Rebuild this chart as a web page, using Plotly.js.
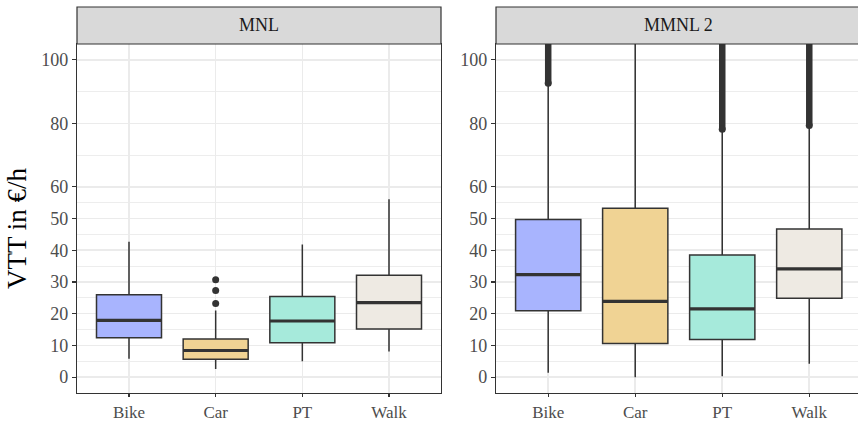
<!DOCTYPE html>
<html>
<head>
<meta charset="utf-8">
<script src="https://cdn.plot.ly/plotly-3.0.1.min.js"></script>
<style>html,body{margin:0;padding:0;background:#fff}#chart{width:858px;height:421px}</style>
</head>
<body>
<div id="chart"></div>
<script>
// ---- data ----
const categories = ['Bike', 'Car', 'PT', 'Walk'];
const panelTitles = ['MNL', 'MMNL 2'];
const fillColors = ['#A8B4FE', '#F0D394', '#A6EADB', '#EEEAE3'];

// MNL
const mnlLowerWhisker = [5.8, 2.6, 5.0, 8.1];
const mnlQ1 = [12.4, 5.6, 10.8, 15.2];
const mnlMedian = [17.9, 8.4, 17.7, 23.5];
const mnlQ3 = [26.0, 12.0, 25.4, 32.1];
const mnlUpperWhisker = [42.7, 21.0, 41.8, 56.1];
const mnlOutlierCategory = ['Car', 'Car', 'Car'];
const mnlOutlierValues = [23.2, 27.3, 30.7];

// MMNL 2
const mmnlLowerWhisker = [1.4, 0.0, 0.3, 4.2];
const mmnlQ1 = [20.9, 10.6, 11.9, 24.9];
const mmnlMedian = [32.3, 23.9, 21.5, 34.1];
const mmnlQ3 = [49.7, 53.2, 38.5, 46.7];
const mmnlUpperWhisker = [92.3, 117.0, 77.8, 79.0];
// dense runs of outliers: from where they start to beyond the visible range
const mmnlOutlierStart = [92.6, null, 78.1, 79.3];
const mmnlOutlierEnd = [150, null, 150, 150];

const yTickVals = [0, 10, 20, 30, 40, 50, 60, 80, 100];
const yMinorVals = [5, 15, 25, 35, 45, 55, 70, 90];

// ---- build ----
const W = 858, H = 421;
const FONT = 'Liberation Serif, Times New Roman, serif';
const edge = '#333333';
const traces = [];

function addPanel(xa, ya, lo, q1, med, q3, hi) {
  categories.forEach((c, i) => {
    traces.push({
      type: 'box', xaxis: xa, yaxis: ya, x: [c],
      q1: [q1[i]], median: [med[i]], q3: [q3[i]],
      lowerfence: [lo[i]], upperfence: [hi[i]],
      width: 0.75, whiskerwidth: 0, boxpoints: false,
      fillcolor: fillColors[i], line: {color: edge, width: 1.5},
      showlegend: false, hoverinfo: 'skip'
    });
    // thicker median bar (ggplot fatten)
    traces.push({
      type: 'box', xaxis: xa, yaxis: ya, x: [c],
      q1: [med[i]], median: [med[i]], q3: [med[i]],
      lowerfence: [med[i]], upperfence: [med[i]],
      width: 0.75, whiskerwidth: 0, boxpoints: false,
      fillcolor: 'rgba(0,0,0,0)', line: {color: edge, width: 3.2},
      showlegend: false, hoverinfo: 'skip'
    });
  });
}
addPanel('x', 'y', mnlLowerWhisker, mnlQ1, mnlMedian, mnlQ3, mnlUpperWhisker);
addPanel('x2', 'y2', mmnlLowerWhisker, mmnlQ1, mmnlMedian, mmnlQ3, mmnlUpperWhisker);

traces.push({
  type: 'scatter', mode: 'markers', xaxis: 'x', yaxis: 'y',
  x: mnlOutlierCategory, y: mnlOutlierValues,
  marker: {color: edge, size: 7}, showlegend: false, hoverinfo: 'skip'
});

const ox = [], oy = [];
categories.forEach((c, i) => {
  if (mmnlOutlierStart[i] === null) return;
  ox.push(c, c, null); oy.push(mmnlOutlierStart[i], mmnlOutlierEnd[i], null);
});
traces.push({
  type: 'scatter', mode: 'lines+markers', xaxis: 'x2', yaxis: 'y2',
  x: ox, y: oy, connectgaps: false,
  line: {color: edge, width: 6.5}, marker: {color: edge, size: 7},
  showlegend: false, hoverinfo: 'skip'
});

const px = v => v / W, py = v => 1 - v / H;
const plotTop = 44, plotBottom = 393, stripTop = 7;
const xDom1 = [px(77), px(441)], xDom2 = [px(496), 1];

function xAxis(dom, range, anchor) {
  return {
    domain: dom, anchor: anchor, range: range, type: 'category',
    categoryorder: 'array', categoryarray: categories,
    showgrid: true, gridcolor: '#EBEBEB', gridwidth: 1.6,
    showline: true, mirror: true, linecolor: edge, linewidth: 1.2,
    ticks: 'outside', ticklen: 3, tickwidth: 1.2, tickcolor: edge,
    tickfont: {family: FONT, size: 17, color: '#4D4D4D'},
    zeroline: false, fixedrange: true
  };
}
function yAxis(anchor, mirror) {
  return {
    domain: [py(plotBottom), py(plotTop)], anchor: anchor, range: [-5, 105],
    tickmode: 'array', tickvals: yTickVals, ticktext: yTickVals.map(String),
    showgrid: true, gridcolor: '#EBEBEB', gridwidth: 1.6,
    minor: {tickmode: 'array', tickvals: yMinorVals, showgrid: true, gridcolor: '#EBEBEB', gridwidth: 0.9, ticks: ''},
    showline: true, mirror: mirror, linecolor: edge, linewidth: 1.2,
    ticks: 'outside', ticklen: 4, tickwidth: 1.2, tickcolor: edge,
    tickfont: {family: FONT, size: 18, color: '#4D4D4D'},
    zeroline: false, fixedrange: true
  };
}

const layout = {
  width: W, height: H,
  margin: {l: 0, r: 0, t: 0, b: 0},
  paper_bgcolor: '#ffffff', plot_bgcolor: '#ffffff',
  showlegend: false,
  xaxis: xAxis(xDom1, [-0.6, 3.6], 'y'),
  yaxis: yAxis('x', true),
  xaxis2: xAxis(xDom2, [-0.6, 3.56], 'y2'),
  yaxis2: yAxis('x2', false),
  shapes: [
    {type: 'rect', xref: 'paper', yref: 'paper', x0: xDom1[0], x1: xDom1[1], y0: py(plotTop), y1: py(stripTop),
     fillcolor: '#D9D9D9', line: {color: edge, width: 1.2}, layer: 'above'},
    {type: 'rect', xref: 'paper', yref: 'paper', x0: xDom2[0], x1: 1.01, y0: py(plotTop), y1: py(stripTop),
     fillcolor: '#D9D9D9', line: {color: edge, width: 1.2}, layer: 'above'}
  ],
  annotations: [
    {text: panelTitles[0], xref: 'paper', yref: 'paper', x: (xDom1[0] + xDom1[1]) / 2, y: py((plotTop + stripTop) / 2),
     xanchor: 'center', yanchor: 'middle', showarrow: false, font: {family: FONT, size: 18, color: '#1A1A1A'}},
    {text: panelTitles[1], xref: 'paper', yref: 'paper', x: px((496 + 861) / 2), y: py((plotTop + stripTop) / 2),
     xanchor: 'center', yanchor: 'middle', showarrow: false, font: {family: FONT, size: 18, color: '#1A1A1A'}},
    {text: 'VTT in €/h', xref: 'paper', yref: 'paper', x: px(17), y: py(229),
     xanchor: 'center', yanchor: 'middle', textangle: -90, showarrow: false, font: {family: FONT, size: 27, color: '#000000'}}
  ]
};

Plotly.newPlot('chart', traces, layout, {staticPlot: true, displayModeBar: false});
</script>
</body>
</html>
